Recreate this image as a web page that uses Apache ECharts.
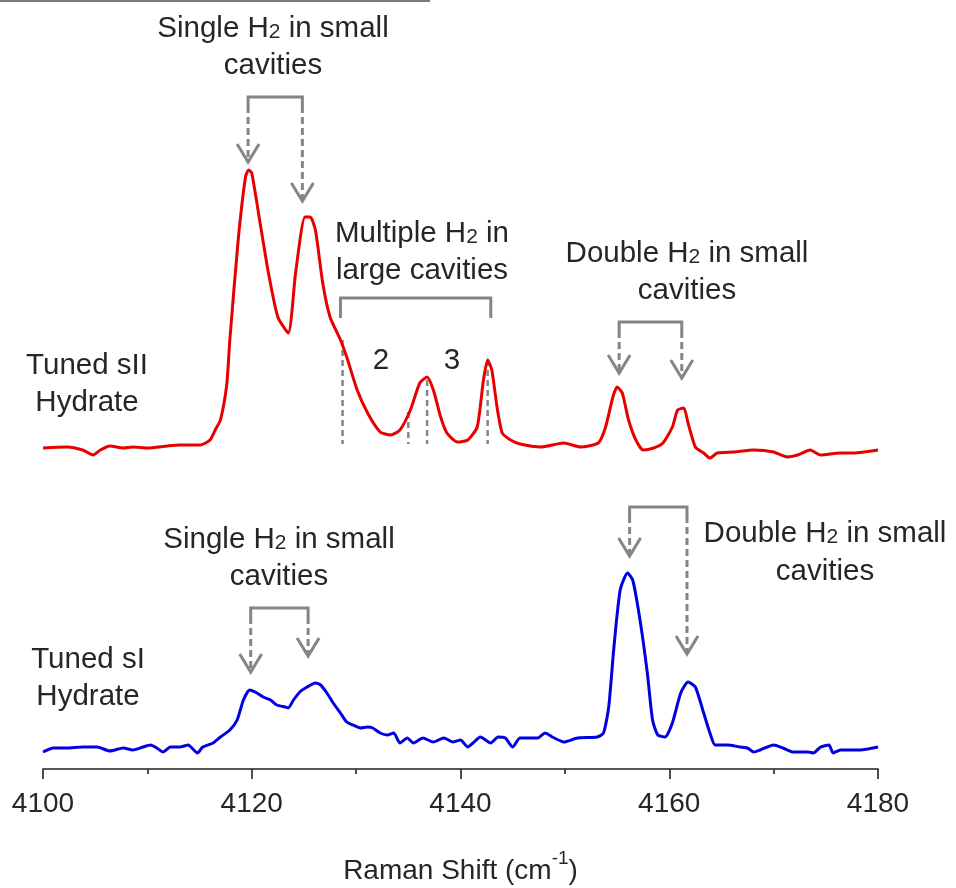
<!DOCTYPE html>
<html><head><meta charset="utf-8">
<script src="https://cdn.jsdelivr.net/npm/echarts@6/dist/echarts.min.js"></script>
<style>html,body{margin:0;padding:0;background:#fff}#c{width:956px;height:888px}</style>
</head><body><div id="c"></div>
<script>
// X axis ticks (Raman shift, cm^-1)
const xTickLabels = [4100, 4120, 4140, 4160, 4180];

// Tuned sII hydrate (red, upper trace) – arbitrary intensity units
const sIIShift = [4100.0,4102.3,4103.8,4104.8,4105.5,4106.4,4107.7,4108.6,4110.0,4111.9,4113.1,4115.1,4116.0,4116.5,4117.0,4117.6,4117.9,4118.7,4119.4,4119.7,4120.0,4120.8,4121.6,4122.5,4123.5,4124.2,4125.1,4125.6,4126.1,4126.8,4127.5,4128.5,4129.1,4130.1,4131.1,4132.3,4133.3,4134.2,4135.2,4136.1,4136.8,4137.4,4138.1,4138.7,4139.7,4140.7,4141.6,4142.2,4142.6,4143.0,4143.5,4144.0,4144.8,4145.7,4147.7,4149.9,4151.5,4153.2,4153.9,4154.6,4155.0,4155.5,4156.1,4156.8,4157.5,4158.5,4159.4,4160.3,4160.8,4161.4,4161.8,4162.5,4163.3,4163.9,4164.6,4166.2,4168.1,4170.0,4171.3,4172.3,4173.5,4174.5,4176.4,4177.7,4180.0];
const sIIIntensity = [2,3,0,-5,0,4,2,3,2,4,5,5,10,20,30,65,110,210,273,280,277,227,177,133,117,177,233,233,220,167,133,110,93,60,37,18,15,20,40,67,73,60,33,17,8,10,23,70,90,80,43,17,10,6,3,7,3,7,23,53,63,57,30,10,0,2,7,23,40,42,27,3,-3,-8,-3,-2,0,-2,-7,-5,0,-5,-3,-3,0];

// Tuned sI hydrate (blue, lower trace) – arbitrary intensity units
const sIShift = [4100.0,4101.0,4102.3,4103.8,4105.2,4106.4,4107.7,4108.6,4109.6,4110.3,4110.9,4111.5,4112.2,4113.1,4113.9,4114.8,4115.3,4116.3,4117.0,4117.9,4118.6,4119.2,4119.8,4120.5,4121.1,4121.8,4122.4,4123.2,4123.5,4124.0,4124.6,4125.3,4126.1,4126.6,4127.2,4127.8,4128.5,4129.1,4129.7,4130.4,4131.1,4131.6,4132.3,4133.0,4133.6,4134.2,4134.9,4135.5,4136.4,4137.4,4138.4,4139.3,4140.0,4140.7,4141.2,4141.9,4142.9,4143.6,4144.3,4145.0,4145.7,4147.4,4148.1,4148.8,4149.9,4151.2,4153.1,4153.7,4154.2,4154.7,4155.3,4156.0,4156.5,4157.2,4157.9,4158.4,4158.9,4159.6,4160.3,4161.1,4161.8,4162.5,4163.3,4163.9,4164.4,4165.6,4166.8,4167.5,4168.1,4168.7,4170.0,4170.9,4171.9,4173.3,4173.8,4174.5,4175.3,4175.7,4176.4,4178.3,4180.0];
const sIIntensity = [-2,2,2,3,3,-1,2,0,3,5,2,-2,3,3,5,-3,3,7,13,20,30,50,60,57,53,50,45,43,42,50,58,63,67,65,57,47,37,28,25,22,23,22,17,15,17,7,12,7,12,8,12,8,10,3,7,13,7,13,12,3,12,12,17,13,8,12,13,17,43,103,160,177,170,130,77,30,15,13,27,57,68,63,37,17,5,5,3,2,-2,0,5,2,-2,-2,-3,3,5,-3,0,0,3];

// Annotation peak positions (cm^-1)
const singleSII = [4119.65, 4124.85];
const doubleSII = [4155.2, 4161.2];
const singleSI = [4119.9, 4125.4];
const doubleSI = [4156.2, 4161.7];
const largeBracket = [4128.5, 4142.9];
const largePeakMarks = [4128.7, 4135.0, 4136.8, 4142.6];

const zip = (a, b) => a.map((v, i) => [v, b[i]]);
const FONT = 'Liberation Sans, Arial, sans-serif';
const GREY = '#858585';
const TXT = '#262626';
const FS = 29.5;

const chart = echarts.init(document.getElementById('c'));
const xBase = {type: 'value', min: xTickLabels[0], max: xTickLabels[xTickLabels.length - 1], interval: 20};
chart.setOption({
  animation: false,
  backgroundColor: '#fff',
  grid: [
    {left: 43, right: 78, top: 160, bottom: 428},
    {left: 43, right: 78, top: 560, bottom: 119}
  ],
  xAxis: [
    Object.assign({}, xBase, {gridIndex: 0, show: false}),
    Object.assign({}, xBase, {
      gridIndex: 1,
      axisLine: {onZero: false, lineStyle: {color: '#222', width: 1.6}},
      axisTick: {inside: false, length: 10, lineStyle: {color: '#222', width: 1.6}},
      minorTick: {show: true, splitNumber: 2, length: 5, lineStyle: {color: '#222', width: 1.6}},
      splitLine: {show: false},
      axisLabel: {fontSize: 28, color: TXT, fontFamily: FONT, margin: 21, formatter: v => String(v)},
      name: '{a|Raman Shift (cm}{b|-1}{a|)}',
      nameLocation: 'middle',
      nameGap: 80,
      nameTextStyle: {
        rich: {
          a: {fontSize: 28, color: TXT, fontFamily: FONT, lineHeight: 36, verticalAlign: 'bottom'},
          b: {fontSize: 19, color: TXT, fontFamily: FONT, lineHeight: 36, verticalAlign: 'top'}
        }
      }
    })
  ],
  yAxis: [
    {type: 'value', gridIndex: 0, min: -10, max: 290, show: false, splitLine: {show: false}},
    {type: 'value', gridIndex: 1, min: -19, max: 190, show: false, splitLine: {show: false}}
  ],
  series: [
    {type: 'line', xAxisIndex: 0, yAxisIndex: 0, data: zip(sIIShift, sIIIntensity), showSymbol: false, smooth: 0.2,
     lineStyle: {color: '#e80000', width: 3}},
    {type: 'line', xAxisIndex: 1, yAxisIndex: 1, data: zip(sIShift, sIIntensity), showSymbol: false, smooth: 0.2,
     lineStyle: {color: '#0000e0', width: 3}}
  ]
});

const px = v => chart.convertToPixel({xAxisIndex: 1}, v);
const els = [];
const dashStyle = {stroke: GREY, lineWidth: 3, lineDash: [7, 4], fill: null};
const solidStyle = {stroke: GREY, lineWidth: 3, fill: null};

function arrowPair(xs, yTop, tips) {
  const x1 = px(xs[0]), x2 = px(xs[1]);
  els.push({type: 'polyline', shape: {points: [[x1, yTop + 9], [x1, yTop], [x2, yTop], [x2, yTop + 9]]}, style: solidStyle});
  [x1, x2].forEach((x, i) => {
    els.push({type: 'line', shape: {x1: x, y1: yTop + 9, x2: x, y2: tips[i] - 2}, style: dashStyle});
    els.push({type: 'polyline', shape: {points: [[x - 11, tips[i] - 18], [x, tips[i]], [x + 11, tips[i] - 18]]}, style: solidStyle});
  });
}
function label(lines, cx, cy, lh) {
  lines.forEach((t, i) => {
    els.push({type: 'text', x: cx, y: cy + i * lh, style: {
      text: t, align: 'center', verticalAlign: 'middle', fill: TXT,
      rich: {
        t: {fontSize: FS, fontFamily: FONT, fill: TXT},
        s: {fontSize: 21, fontFamily: FONT, fill: TXT, padding: [6, 0, 0, 0]}
      }, font: FS + 'px ' + FONT
    }});
  });
}

// frame remnant at top
els.push({type: 'line', shape: {x1: 0, y1: 1, x2: 430, y2: 1}, style: {stroke: '#7a7a7a', lineWidth: 2}});

arrowPair(singleSII, 97, [162, 201]);
arrowPair(doubleSII, 322, [373, 378]);
arrowPair(singleSI, 608, [672, 656]);
arrowPair(doubleSI, 507, [556, 654]);

// large cavity bracket
const lb1 = px(largeBracket[0]), lb2 = px(largeBracket[1]);
els.push({type: 'polyline', shape: {points: [[lb1, 318], [lb1, 298], [lb2, 298], [lb2, 318]]}, style: solidStyle});
const markTops = [340, 412, 380, 360];
largePeakMarks.forEach((v, i) => {
  const x = px(v);
  els.push({type: 'line', shape: {x1: x, y1: markTops[i], x2: x, y2: 444}, style: {stroke: GREY, lineWidth: 2.5, lineDash: [6, 4]}});
});

label(['{t|Single H}{s|2}{t| in small}', '{t|cavities}'], 273, 29, 37);
label(['{t|Multiple H}{s|2}{t| in}', '{t|large cavities}'], 422, 234, 37);
label(['{t|Double H}{s|2}{t| in small}', '{t|cavities}'], 687, 254, 37);
label(['{t|Tuned sII}', '{t|Hydrate}'], 87, 366, 37);
label(['{t|2}'], 381, 361, 0);
label(['{t|3}'], 452, 361, 0);
label(['{t|Single H}{s|2}{t| in small}', '{t|cavities}'], 279, 540, 37);
label(['{t|Tuned sI}', '{t|Hydrate}'], 88, 660, 37);
label(['{t|Double H}{s|2}{t| in small}', '{t|cavities}'], 825, 534, 38);

chart.setOption({graphic: {elements: els}});
</script>
</body></html>
